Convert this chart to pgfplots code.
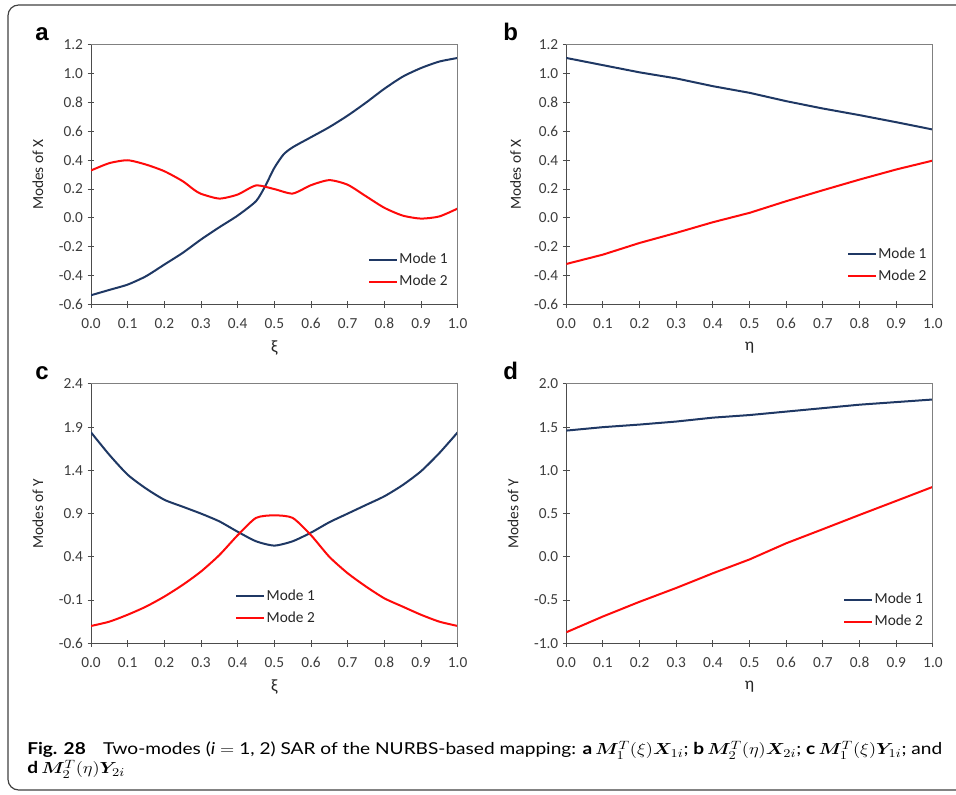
\documentclass[border=0pt]{standalone}
\usepackage{fontspec}
\usepackage{bm}
\usepackage{graphicx}
\usepackage{pgfplots}
\pgfplotsset{compat=1.18}
\setmainfont{Carlito}
\newfontfamily\arialfont{Liberation Sans}
\newfontfamily\capfont{Lato}
\definecolor{navy}{RGB}{31,56,100}
\definecolor{mred}{RGB}{255,10,10}
\definecolor{tickgray}{RGB}{60,60,60}
\newsavebox\capboxA

\pgfplotsset{
  panel/.style={
    scale only axis, width=275pt, height=194.5pt,
    anchor=south west,
    axis lines=left,
    axis line style={-, black!70, line width=0.75pt},
    xmin=0, xmax=1,
    xtick={0,0.1,0.2,0.3,0.4,0.5,0.6,0.7,0.8,0.9,1},
    tick align=center, major tick length=5pt,
    tick style={black!70, line width=0.75pt},
    /pgf/number format/assume math mode=true,
    /pgf/number format/fixed,
    /pgf/number format/fixed zerofill,
    /pgf/number format/precision=1,
    ticklabel style={font=\fontsize{11.5}{13}\selectfont, text=tickgray},
    xticklabel style={yshift=-4.5pt},
    ylabel style={at={(axis description cs:-0.145,0.5)}, anchor=center, rotate=0, font=\fontsize{11.5}{13}\selectfont, text=black!85},
    xlabel style={at={(axis description cs:0.5,-0.168)}, anchor=center, font=\fontsize{13}{14}\selectfont, text=black!85},
    legend style={draw=none, fill=none, anchor=west, inner sep=0pt, row sep=5pt,
      font=\fontsize{11.5}{13}\selectfont, nodes={inner sep=1pt, text=black!85}},
    legend cell align=left,
    legend image code/.code={\draw[##1, line width=1.5pt] (0pt,0pt) -- (21pt,0pt);},
    every axis plot/.append style={line width=1.5pt, no markers},
    after end axis/.code={\draw[black!50, line width=0.75pt] (rel axis cs:0,1) -- (rel axis cs:1,1) -- (rel axis cs:1,0);},
  }
}

\begin{document}
\sbox\capboxA{\capfont\fontsize{12.3}{14}\selectfont\textbf{Fig. 28}\hspace{0.9em}Two-modes (\textit{i}~$=$~1, 2) SAR of the NURBS-based mapping: \textbf{a}\,$\bm{M}_1^{T}(\xi)\bm{X}_{1i}$; \textbf{b}\,$\bm{M}_2^{T}(\eta)\bm{X}_{2i}$; \textbf{c}\,$\bm{M}_1^{T}(\xi)\bm{Y}_{1i}$; and}%
\pgfmathsetmacro\capsx{686.25/\wd\capboxA}%
\begin{tikzpicture}
\useasboundingbox (0,0) rectangle (717pt,596.25pt);
\draw[black!75, line width=0.9pt, rounded corners=8pt] (717pt,592.5pt) -- (6pt,592.5pt) -- (6pt,3.75pt) -- (717pt,3.75pt);

% panel a
\begin{axis}[panel, at={(68.25pt,368pt)},
  ymin=-0.6, ymax=1.2, ytick={-0.6,-0.4,-0.2,0,0.2,0.4,0.6,0.8,1.0,1.2},
  ylabel={Modes of X}, xlabel={ξ},
  legend style={at={(axis description cs:0.755,0.13)}}]
\addplot[navy, smooth, tension=0.4] coordinates {
(0,-0.537) (0.05,-0.50) (0.1,-0.463) (0.15,-0.405) (0.2,-0.324) (0.25,-0.243)
(0.3,-0.15) (0.35,-0.065) (0.4,0.016) (0.45,0.116) (0.475,0.22) (0.5,0.347)
(0.525,0.44) (0.55,0.49) (0.6,0.56) (0.65,0.63) (0.7,0.71) (0.75,0.80)
(0.8,0.896) (0.85,0.98) (0.9,1.04) (0.95,1.085) (1.0,1.11)};
\addlegendentry{Mode 1}
\addplot[mred, smooth, tension=0.4] coordinates {
(0,0.329) (0.05,0.38) (0.1,0.40) (0.15,0.37) (0.2,0.324) (0.25,0.255)
(0.28,0.197) (0.3,0.167) (0.35,0.134) (0.4,0.162) (0.45,0.225) (0.5,0.20)
(0.55,0.169) (0.6,0.227) (0.65,0.262) (0.7,0.23) (0.75,0.15) (0.8,0.07)
(0.85,0.016) (0.9,-0.005) (0.95,0.01) (1.0,0.065)};
\addlegendentry{Mode 2}
\end{axis}

% panel b
\begin{axis}[panel, at={(424.7pt,368pt)},
  ymin=-0.6, ymax=1.2, ytick={-0.6,-0.4,-0.2,0,0.2,0.4,0.6,0.8,1.0,1.2},
  ylabel={Modes of X}, xlabel={η},
  ylabel style={at={(axis description cs:-0.138,0.5)}},
  legend style={at={(axis description cs:0.765,0.15)}}]
\addplot[navy] coordinates {
(0,1.11) (0.1,1.06) (0.2,1.01) (0.3,0.968) (0.4,0.914) (0.5,0.868)
(0.6,0.81) (0.7,0.759) (0.8,0.713) (0.9,0.664) (1.0,0.613)};
\addlegendentry{Mode 1}
\addplot[mred] coordinates {
(0,-0.32) (0.1,-0.255) (0.2,-0.174) (0.3,-0.104) (0.4,-0.03) (0.5,0.035)
(0.6,0.116) (0.7,0.192) (0.8,0.266) (0.9,0.336) (1.0,0.398)};
\addlegendentry{Mode 2}
\end{axis}

% panel c
\begin{axis}[panel, at={(68.25pt,113.8pt)},
  ymin=-0.6, ymax=2.4, ytick={-0.6,-0.1,0.4,0.9,1.4,1.9,2.4},
  ylabel={Modes of Y}, xlabel={ξ},
  legend style={at={(axis description cs:0.393,0.138)}}]
\addplot[navy, smooth, tension=0.4] coordinates {
(0,1.84) (0.05,1.58) (0.1,1.35) (0.15,1.19) (0.2,1.06) (0.25,0.98)
(0.3,0.90) (0.35,0.81) (0.4,0.69) (0.45,0.58) (0.5,0.53) (0.55,0.58)
(0.6,0.68) (0.65,0.80) (0.7,0.90) (0.75,1.00) (0.8,1.10) (0.85,1.23)
(0.9,1.39) (0.95,1.60) (1.0,1.84)};
\addlegendentry{Mode 1}
\addplot[mred, smooth, tension=0.4] coordinates {
(0,-0.40) (0.05,-0.35) (0.1,-0.27) (0.15,-0.176) (0.2,-0.06) (0.25,0.075)
(0.3,0.23) (0.35,0.42) (0.4,0.65) (0.45,0.85) (0.5,0.88) (0.55,0.85)
(0.6,0.65) (0.65,0.40) (0.7,0.21) (0.75,0.056) (0.8,-0.08) (0.85,-0.176)
(0.9,-0.27) (0.95,-0.35) (1.0,-0.40)};
\addlegendentry{Mode 2}
\end{axis}

% panel d
\begin{axis}[panel, at={(424.7pt,113.8pt)},
  ymin=-1.0, ymax=2.0, ytick={-1.0,-0.5,0,0.5,1.0,1.5,2.0},
  ylabel={Modes of Y}, xlabel={η},
  legend style={at={(axis description cs:0.755,0.126)}}]
\addplot[navy] coordinates {
(0,1.46) (0.1,1.50) (0.2,1.53) (0.3,1.565) (0.4,1.61) (0.5,1.64)
(0.6,1.68) (0.7,1.72) (0.8,1.76) (0.9,1.79) (1.0,1.82)};
\addlegendentry{Mode 1}
\addplot[mred] coordinates {
(0,-0.873) (0.1,-0.69) (0.2,-0.52) (0.3,-0.36) (0.4,-0.19) (0.5,-0.03)
(0.6,0.157) (0.7,0.32) (0.8,0.485) (0.9,0.647) (1.0,0.81)};
\addlegendentry{Mode 2}
\end{axis}

% panel letters
\node[font=\arialfont\bfseries\fontsize{18}{18}\selectfont, anchor=base west, inner sep=0pt] at (26.25pt,565.5pt) {a};
\node[font=\arialfont\bfseries\fontsize{18}{18}\selectfont, anchor=base west, inner sep=0pt] at (377.25pt,565.5pt) {b};
\node[font=\arialfont\bfseries\fontsize{18}{18}\selectfont, anchor=base west, inner sep=0pt] at (26.25pt,311.25pt) {c};
\node[font=\arialfont\bfseries\fontsize{18}{18}\selectfont, anchor=base west, inner sep=0pt] at (377.25pt,311.25pt) {d};

% caption
\node[anchor=base west, inner sep=0pt] at (20.25pt,30pt) {\scalebox{\capsx}[1]{\usebox\capboxA}};
\node[anchor=base west, inner sep=0pt, font=\capfont\fontsize{12.3}{14}\selectfont] at (20.25pt,15.75pt)
 {\scalebox{\capsx}[1]{\textbf{d}\,$\bm{M}_2^{T}(\eta)\bm{Y}_{2i}$}};
\end{tikzpicture}
\end{document}
